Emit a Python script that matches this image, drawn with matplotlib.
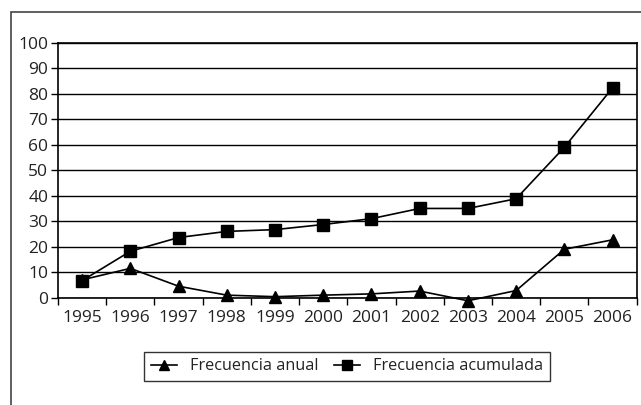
import matplotlib
matplotlib.use("Agg")
import matplotlib.pyplot as plt
from matplotlib.patches import Rectangle

plt.rcParams['font.family'] = ['Open Sans', 'DejaVu Sans']

years = ["1995", "1996", "1997", "1998", "1999", "2000",
         "2001", "2002", "2003", "2004", "2005", "2006"]
frecuencia_anual = [7, 11.5, 4.5, 1, 0.4, 1, 1.5, 2.6, -1.2, 2.8, 19, 22.7]
frecuencia_acumulada = [6.7, 18.2, 23.6, 26, 26.7, 28.7, 31, 35, 35, 38.8, 59, 82.3]

fig = plt.figure(figsize=(6.41, 4.05), dpi=100)
# outer frame (only top and left edges show in the picture)
fig.patches.append(Rectangle((11 / 641, -0.1), 1.2, 1.1 - 12 / 405,
                             transform=fig.transFigure, fill=False,
                             edgecolor="#444444", linewidth=1.2))

ax = fig.add_axes([58 / 641, 1 - 297.7 / 405, (636.7 - 58) / 641, (297.7 - 42.7) / 405])

x = list(range(len(years)))
ax.plot(x, frecuencia_anual, color="black", linewidth=1.2, marker="^",
        markersize=9, label="Frecuencia anual", clip_on=False, zorder=3)
ax.plot(x, frecuencia_acumulada, color="black", linewidth=1.2, marker="s",
        markersize=8, label="Frecuencia acumulada", clip_on=False, zorder=3)

ax.set_xlim(-0.5, len(years) - 0.5)
ax.set_ylim(0, 100)
ax.set_yticks(range(0, 101, 10))
ax.yaxis.grid(True, color="black", linewidth=1)
ax.set_axisbelow(True)

ax.set_xticks([i - 0.5 for i in range(len(years) + 1)])
ax.set_xticklabels([])
ax.set_xticks(x, minor=True)
ax.set_xticklabels(years, minor=True, fontsize=12.5, color="#222222")
ax.tick_params(axis="x", which="minor", length=0, pad=9)
ax.tick_params(axis="x", which="major", length=5, width=1, direction="out")
ax.tick_params(axis="y", length=5, width=1, labelsize=12.5, pad=2,
               labelcolor="#222222")

for side in ["left", "bottom", "right", "top"]:
    ax.spines[side].set_color("black")
    ax.spines[side].set_linewidth(1.2)

leg = fig.legend(loc="center", bbox_to_anchor=(347 / 641, 1 - 366.5 / 405),
                 ncol=2, frameon=True, fancybox=False,
                 prop={"size": 11.7}, handlelength=1.6, handletextpad=0.8,
                 columnspacing=1.0, borderpad=0.4, borderaxespad=0,
                 edgecolor="black", markerscale=0.85)
leg.get_frame().set_linewidth(1)
for t in leg.get_texts():
    t.set_color("#222222")

fig.savefig("out.png", dpi=100, facecolor="white")
